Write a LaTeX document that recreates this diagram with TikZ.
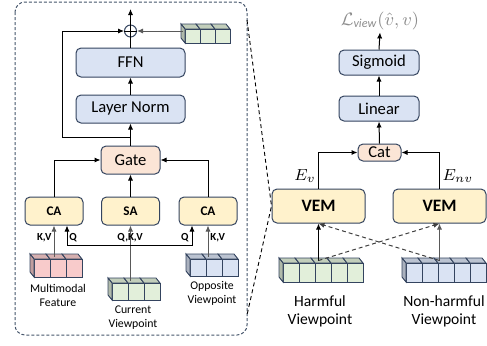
\documentclass[tikz,border=0pt]{standalone}
\usepackage{amsmath}
\usepackage{fontspec}
\setmainfont{Carlito}
\usepackage{tikz}
\usetikzlibrary{arrows.meta}

\definecolor{boxblue}{HTML}{DAE3F3}
\definecolor{boxyellow}{HTML}{FFF2CC}
\definecolor{boxpeach}{HTML}{FBE5D6}
\definecolor{boxedge}{HTML}{34445F}
\definecolor{cubegreen}{HTML}{E2EFDA}
\definecolor{cubepink}{HTML}{F8CBCB}
\definecolor{cubeblue}{HTML}{DAE3F3}
\definecolor{frameedge}{HTML}{44546A}
\definecolor{losstext}{HTML}{8C8C8C}

\tikzset{
  blk/.style={draw=boxedge, line width=0.5pt, rounded corners=2.5pt, inner sep=0pt},
  bluebox/.style={blk, fill=boxblue, font=\fontsize{8.3}{10}\selectfont},
  peachbox/.style={blk, fill=boxpeach, font=\fontsize{8.3}{10}\selectfont},
  yellowbox/.style={blk, fill=boxyellow, font=\bfseries\fontsize{6.6}{8}\selectfont},
  arr/.style={-{Latex[length=3pt,width=2.6pt]}, line width=0.5pt},
  arrg/.style={arr, draw=black!65},
  darr/.style={arr, draw=black!75, dash pattern=on 2pt off 1.5pt},
  kvlbl/.style={font=\bfseries\fontsize{5.4}{6}\selectfont, inner sep=0pt},
  cubeedge/.style={draw=boxedge, line width=0.45pt},
}

% token cube: name, x, y (front top-left), cells, cell width, cell height, colour
\newcommand{\tokcube}[7]{%
  \foreach \i in {1,...,#4}{
    \draw[cubeedge, fill=#7!86!black] ({#2+(\i-1)*#5},#3) -- ++(-4,-5) -- ++(#5,0) -- ++(4,5) -- cycle;
    \draw[cubeedge, fill=#7] ({#2+(\i-1)*#5},#3) rectangle ++(#5,#6);
  }
  \draw[cubeedge, fill=#7!78!black] (#2,#3) -- ++(-4,-5) -- ++(0,#6) -- ++(4,5) -- cycle;
  \coordinate (#1) at ({#2+#4*#5/2-2},{#3-2.5});
  \coordinate (#1w) at ({#2-2},{#3+#6/2-2.5});
}

\begin{document}
\begin{tikzpicture}[x=0.5pt, y=-0.5pt]
      \useasboundingbox (0,0) rectangle (487,345);

      % dashed frame of the encoder
      \draw [frameedge, line width=0.5pt, dash pattern=on 1.5pt off 1pt, rounded corners=5pt] (15,2) rectangle (247,335);

      % FFN and Layer Norm
      \node[bluebox, minimum width=54.5pt, minimum height=14.5pt](ffn) at (130.5,62.5){FFN};
      \node[bluebox, minimum width=54.5pt, minimum height=14pt](ln) at (130.5,109){Layer Norm};

      % add
      \node[draw=boxedge, line width=0.5pt, circle, minimum size=6pt, inner sep=0pt](add) at (130.5,31){};
      \draw [line width=0.45pt] (add.north) -- (add.south) (add.west) -- (add.east);
      \coordinate (out) at (130.5,9);
      \draw [arr] (add.north) -- (out);
      \draw [line width=0.5pt] (ffn.north) -- (add.south);
      \draw [arr] (ln.north) -- (ffn.south);

      % gate
      \node[peachbox, minimum width=29.5pt, minimum height=14pt](gate) at (130.5,160){Gate};
      \draw [arr] (gate.north) -- (ln.south);

      % residual
      \coordinate (res) at (130.5,137);
      \draw [arr] (res) -- ++(-68.5,0) |- (add.west);

      % attention blocks
      \node[yellowbox, minimum width=29pt, minimum height=14pt](caL) at (54,211){CA};
      \node[yellowbox, minimum width=29pt, minimum height=14pt](sa) at (130.5,211){SA};
      \node[yellowbox, minimum width=29pt, minimum height=14pt](caR) at (208,211){CA};
      \draw [arr] (caL.north) |- (gate.west);
      \draw [arr] (caR.north) |- (gate.east);
      \draw [arr] (sa.north) -- (gate.south);

      % input cubes
      \tokcube{ffnin}{185}{29}{3}{15}{14}{cubegreen}
      \tokcube{mm}{34}{259}{3}{16}{18}{cubepink}
      \tokcube{cur}{112}{283}{3}{16}{17}{cubegreen}
      \tokcube{opp}{190}{259}{3}{16}{17}{cubeblue}
      \draw [arrg] (add.east -| ffninw) -- (add.east);

      % K,V and Q inputs
      \draw [arrg] (caL.south |- mm) -- (caL.south);
      \draw [arrg] (caR.south |- opp) -- (caR.south);
      \draw [arrg] (sa.south |- cur) -- (sa.south);
      \coordinate (qsplit) at (130.5,245);
      \draw [arr] (qsplit) -| ([xshift=6.5pt]caL.south);
      \draw [arr] (qsplit) -| ([xshift=-8pt]caR.south);
      \node[kvlbl, anchor=east](kvL) at (52,238){K,V};
      \node[kvlbl, anchor=west](qL) at (69,238){Q};
      \node[kvlbl](qkv) at (130,238){Q,K,V};
      \node[kvlbl, anchor=east](qR) at (189,238){Q};
      \node[kvlbl, anchor=west](kvR) at (210,238){K,V};

      % input labels
      \node[align=center, font=\fontsize{5.9}{7}\selectfont](mmlbl) at (58,295){Multimodal\\Feature};
      \node[align=center, font=\fontsize{5.9}{7}\selectfont](curlbl) at (133,317.5){Current\\Viewpoint};
      \node[align=center, font=\fontsize{5.9}{7}\selectfont](opplbl) at (212,293){Opposite\\Viewpoint};

      % classifier head
      \node[bluebox, minimum width=40pt, minimum height=12.5pt](sig) at (379,62.5){Sigmoid};
      \node[bluebox, minimum width=40pt, minimum height=12.5pt](lin) at (379,108.5){Linear};
      \node[peachbox, minimum width=21.5pt, minimum height=8.5pt](cat) at (379.5,152.5){Cat};
      \node[text=losstext, font=\fontsize{8.7}{10}\selectfont, inner sep=1pt](loss) at (380,21){$\mathcal{L}_{\mathit{view}}(\hat{v},v)$};
      \draw [arr] (sig.north) -- (loss.south);
      \draw [arr] (lin.north) -- (sig.south);
      \draw [arr] (cat.north) -- (lin.south);

      % VEM
      \node[yellowbox, font=\bfseries\fontsize{8.7}{10}\selectfont, minimum width=46.5pt, minimum height=17pt](vemL) at (318.5,206){VEM};
      \node[yellowbox, font=\bfseries\fontsize{8.7}{10}\selectfont, minimum width=46.5pt, minimum height=17pt](vemR) at (439.5,206){VEM};
      \draw [arr] (vemL.north) |- (cat.west);
      \draw [arr] (vemR.north) |- (cat.east);
      \node[font=\fontsize{8.5}{10}\selectfont](ev) at (305,176){$E_v$};
      \node[font=\fontsize{8.5}{10}\selectfont](env) at (458,176){$E_{nv}$};

      % zoom lines
      \coordinate (ztop) at (247,20);
      \coordinate (zbot) at (247,315);
      \draw [line width=0.45pt, dash pattern=on 2pt off 1.5pt] (ztop) -- (vemL.west) -- (zbot);

      % viewpoint cubes
      \tokcube{harm}{283}{263}{5}{16}{19}{cubegreen}
      \tokcube{nonh}{406}{263}{5}{16}{19}{cubeblue}
      \draw [arr] (vemL.south |- harm) -- (vemL.south);
      \draw [arrg] (vemR.south |- nonh) -- (vemR.south);
      \draw [darr] (vemL.south |- harm) -- (vemR.south);
      \draw [darr] (vemR.south |- nonh) -- (vemL.south);
      \node[align=center, font=\fontsize{7.8}{9}\selectfont](harmlbl) at (320,311){Harmful\\Viewpoint};
      \node[align=center, font=\fontsize{7.8}{9}\selectfont](nonhlbl) at (444,311){Non-harmful\\Viewpoint};
    \end{tikzpicture}
\end{document}
